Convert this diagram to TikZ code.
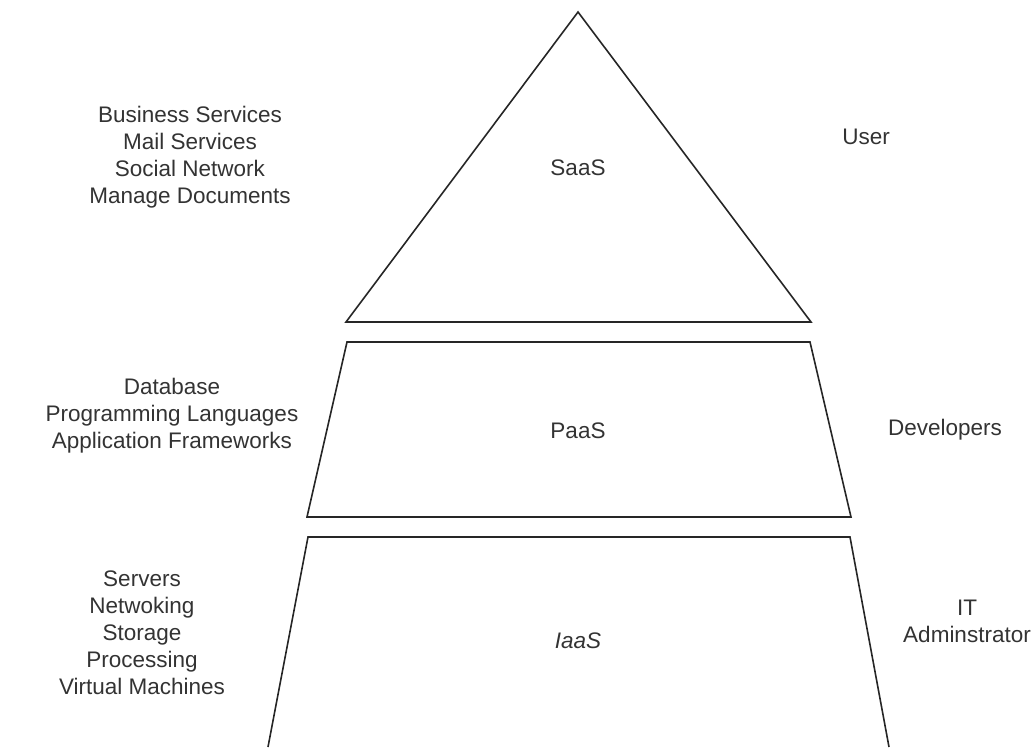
\documentclass[tikz,border=0pt]{standalone}
\usepackage{fontspec}
\setmainfont{Liberation Sans}
\usetikzlibrary{positioning}
\tikzset{
  %define style for the layer outlines
  layer/.style={
    draw=black!85,
    line width=1.6pt,
    line join=miter},
  %define style for the text blocks
  info/.style={
    align=center,
    inner sep=0pt,
    text=black!80,
    font=\fontsize{22.5}{27}\selectfont},
  tier/.style={
    info,
    anchor=center}
}
\begin{document}
\begin{tikzpicture}[x=1pt, y=-1pt]
\useasboundingbox (0,0) rectangle (1036,747);
%layers
\draw[layer] (578,12) -- (811,322) -- (346,322) -- cycle;
\draw[layer] (347,342) -- (810,342) -- (851,517) -- (307,517) -- cycle;
\draw[layer] (268,747) -- (308,537) -- (850,537) -- (889,747);

%layer names
\node[tier] (saas) at (578,168) {SaaS};
\node[tier] (paas) at (578,431) {PaaS};
\node[tier, font=\fontsize{22.5}{27}\selectfont\itshape] (iaas) at (578,641) {IaaS};

%services
\node[info] (saasitems) at (190,157)
     {Business Services\\Mail Services\\Social Network\\Manage Documents};
\node[info] (paasitems) at (172,416)
     {Database\\Programming Languages\\Application Frameworks};
\node[info] (iaasitems) at (142,633)
     {Servers\\Netwoking\\Storage\\Processing\\Virtual Machines};

%users
\node[info] (user) at (866,137) {User};
\node[info] (dev) at (945,430) {Developers};
\node[info] (admin) at (967,621) {IT\\Adminstrator};
\end{tikzpicture}
\end{document}
